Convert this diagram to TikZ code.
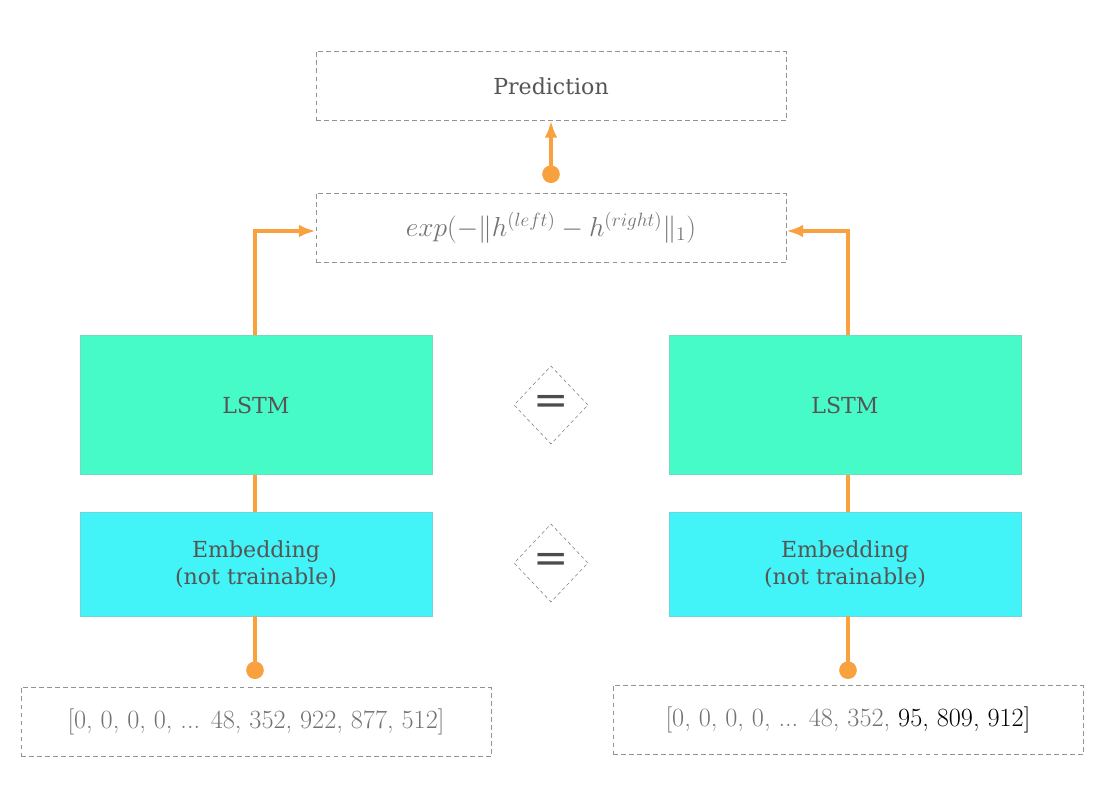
\documentclass[tikz,border=0pt]{standalone}
\usepackage{fix-cm}
\usepackage{fontspec}
\usetikzlibrary{shapes.geometric,arrows.meta}
\newfontfamily\typefont{DejaVu Serif}

\definecolor{wire}{HTML}{F9A03F}
\definecolor{lstmgreen}{HTML}{46FBC8}
\definecolor{embcyan}{HTML}{42F3F8}
\definecolor{txtgray}{HTML}{555555}

\tikzset{
  dashbox/.style={draw=gray!85, dashed, dash pattern=on 3.5pt off 2.2pt, minimum width=11.75cm, minimum height=1.72cm, text=black!55, font=\fontsize{18.7}{22}\selectfont},
  lstmbox/.style={draw=lstmgreen!80!black!70, fill=lstmgreen, minimum width=8.8cm, minimum height=3.47cm, text=txtgray, font=\typefont\fontsize{15.7}{19}\selectfont},
  embbox/.style={draw=embcyan!80!black!70, fill=embcyan, minimum width=8.8cm, minimum height=2.6cm, align=center, text=txtgray, font=\typefont\fontsize{15.7}{19}\selectfont},
  eqbox/.style={diamond, draw=gray, dashed, dash pattern=on 2.5pt off 2pt, inner sep=0pt, minimum width=1.85cm, minimum height=1.95cm, text=black!70, font=\typefont\fontsize{30}{34}\selectfont},
  wireline/.style={draw=wire, line width=2.6pt},
  tip/.style={-{Latex[length=12pt,width=9pt]}},
}

\begin{document}
\begin{tikzpicture}[x=0.025cm, y=-0.025cm]
\useasboundingbox (0,0) rectangle (1111,788);

\node (pred) at (551,86) [dashbox, text=txtgray, font=\typefont\fontsize{15.7}{19}\selectfont] {Prediction};
\node (dist) at (551,228) [dashbox, font=\fontsize{19.5}{23}\selectfont] {$exp(-\Vert h^{(left)} - h^{(right)}\Vert_1)$};

\node (lstmL) at (256,405) [lstmbox] {LSTM};
\node (lstmR) at (845,405) [lstmbox] {LSTM};
\node (embL) at (256,564) [embbox] {Embedding\\(not trainable)};
\node (embR) at (845,564) [embbox] {Embedding\\(not trainable)};

\node (eqA) at (551,405) [eqbox] {=};
\node (eqB) at (551,563) [eqbox] {=};

\node (inL) at (256,722) [dashbox] {[0, 0, 0, 0, ... 48, 352, 922, 877, 512]};
\node (inR) at (848,720) [dashbox] {[0, 0, 0, 0, ... 48, 352, \textcolor{black}{95, 809, 912]}};

\coordinate (dotP) at (551,183);
\coordinate (dotL) at (255,679);
\coordinate (dotR) at (848,679);

\draw[wireline, {Circle[length=12.5pt]}-{Latex[length=12pt,width=9pt]}] (dotP) -- (pred.south);
\draw[wireline, tip] (lstmL.north -| dotL) |- ([yshift=-0.075cm]dist.west);
\draw[wireline, tip] (lstmR.north -| dotR) |- ([yshift=-0.075cm]dist.east);
\draw[wireline] (lstmL.south -| dotL) -- (embL.north -| dotL);
\draw[wireline] (lstmR.south -| dotR) -- (embR.north -| dotR);
\draw[wireline, -{Circle[length=12.5pt]}] (embL.south -| dotL) -- (dotL);
\draw[wireline, -{Circle[length=12.5pt]}] (embR.south -| dotR) -- (dotR);

\end{tikzpicture}
\end{document}
